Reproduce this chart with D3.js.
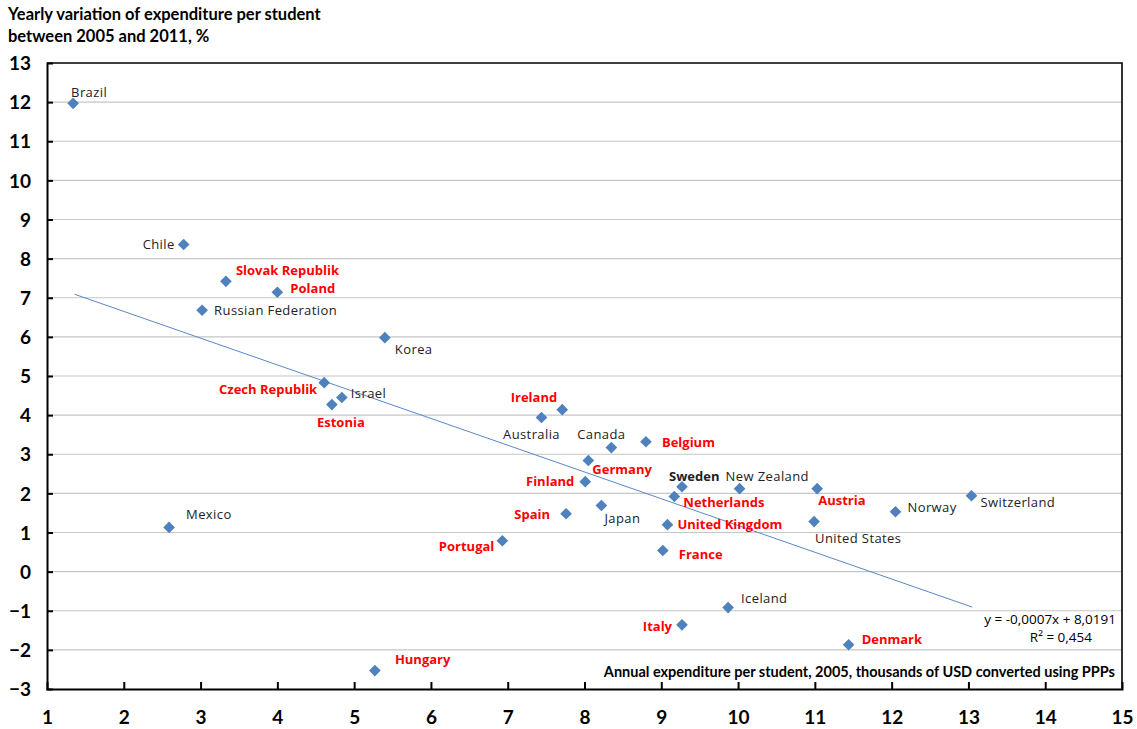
<!DOCTYPE html>
<html><head><meta charset="utf-8">
<script src="https://cdn.jsdelivr.net/npm/d3@7"></script>
<style>body{margin:0;background:#fff}svg{display:block}</style>
</head><body>
<script>
// ---- data ----
const countries = ["Brazil","Chile","Slovak Republik","Poland","Russian Federation","Korea","Czech Republik","Israel","Estonia","Mexico","Ireland","Australia","Canada","Belgium","Germany","Finland","Sweden","New Zealand","Netherlands","Austria","Norway","Switzerland","Spain","Japan","United Kingdom","United States","Portugal","France","Iceland","Italy","Denmark","Hungary"];
const expenditure2005 = [1.34,2.78,3.33,4.00,3.02,5.40,4.61,4.84,4.71,2.59,7.71,7.44,8.35,8.80,8.05,8.01,9.27,10.02,9.17,11.03,12.05,13.04,7.76,8.22,9.08,10.99,6.93,9.02,9.87,9.27,11.44,5.27];
const yearlyVariation = [11.97,8.36,7.42,7.14,6.68,5.98,4.83,4.45,4.27,1.13,4.14,3.94,3.17,3.32,2.84,2.30,2.17,2.12,1.92,2.12,1.53,1.94,1.48,1.69,1.20,1.28,0.79,0.54,-0.92,-1.36,-1.87,-2.53];
const highlighted = ["Slovak Republik","Poland","Czech Republik","Estonia","Ireland","Belgium","Germany","Finland","Netherlands","Austria","Spain","United Kingdom","Portugal","France","Italy","Denmark","Hungary"];
const xTicks = [1,2,3,4,5,6,7,8,9,10,11,12,13,14,15];
const yTicks = [13,12,11,10,9,8,7,6,5,4,3,2,1,0,-1,-2,-3];
const trendStartEnd = [1.36, 13.05];
const trendSlope = -0.684, trendIntercept = 8.0191;
const equationText = ["y = -0,0007x + 8,0191", "R² = 0,454"];
const titleLines = ["Yearly variation of expenditure per student", "between 2005 and 2011, %"];
const xTitle = "Annual expenditure per student, 2005, thousands of USD converted using PPPs";

// ---- label layout (dx, dy, anchor) ----
const labelLayout = {
 "Brazil":[-2,-11,"start"],"Chile":[-9,0,"end"],"Slovak Republik":[10,-11,"start"],"Poland":[13,-4,"start"],
 "Russian Federation":[12,0,"start"],"Korea":[10,12,"start"],"Czech Republik":[-7,7,"end"],"Israel":[9,-4,"start"],
 "Estonia":[9,18,"middle"],"Mexico":[17,-13,"start"],"Ireland":[-5,-12,"end"],"Australia":[-10,17,"middle"],
 "Canada":[-10,-13,"middle"],"Belgium":[16,1,"start"],"Germany":[4,9,"start"],"Finland":[-11,0,"end"],
 "Sweden":[-13,-10,"start"],"New Zealand":[-14,-12,"start"],"Netherlands":[9,6,"start"],"Austria":[1,12,"start"],
 "Norway":[12,-4,"start"],"Switzerland":[9,7,"start"],"Spain":[-16,1,"end"],"Japan":[3,13,"start"],
 "United Kingdom":[10,0,"start"],"United States":[1,17,"start"],"Portugal":[-8,6,"end"],"France":[16,4,"start"],
 "Iceland":[13,-9,"start"],"Italy":[-10,2,"end"],"Denmark":[13,-5,"start"],"Hungary":[20,-11,"start"]
};

const W = 1137, H = 729;
const svg = d3.select("body").append("svg").attr("width", W).attr("height", H);
const x = d3.scaleLinear().domain([1,15]).range([47,1122]);
const y = d3.scaleLinear().domain([-3,13]).range([689,63]);

// gridlines
svg.append("g").selectAll("line").data(yTicks.filter(v=>v>-3 && v<13)).join("line")
 .attr("x1", x(1)).attr("x2", x(15)).attr("y1", d=>y(d)).attr("y2", d=>y(d))
 .attr("stroke", "#c6c6c6").attr("stroke-width", 1.2);

// border top/right
svg.append("path").attr("d", `M${x(1)},${y(13)}H${x(15)}V${y(-3)}`).attr("fill","none").attr("stroke","#000").attr("stroke-width",1.6);

// axes
const yAxis = d3.axisLeft(y).tickValues(yTicks).tickSize(-6).tickPadding(16).tickFormat(d3.format("d"));
const gy = svg.append("g").attr("transform", `translate(${x(1)},0)`).call(yAxis);
const xAxis = d3.axisBottom(x).tickValues(xTicks).tickSize(-7).tickPadding(22).tickFormat(d3.format("d"));
const gx = svg.append("g").attr("transform", `translate(0,${y(-3)})`).call(xAxis);
[gx, gy].forEach(g => {
  g.select(".domain").attr("stroke","#000").attr("stroke-width",2);
  g.selectAll(".tick line").attr("stroke","#000").attr("stroke-width",2);
  g.selectAll(".tick text").attr("fill","#000").style("font-family","Lato, 'Open Sans', sans-serif").style("font-weight","bold").style("font-size","19px");
});
gy.selectAll(".tick text").attr("dy","0.35em");
gy.selectAll(".tick").filter(d=>d===13 || d===-3).select("line").remove();
gx.selectAll(".tick").filter(d=>d===1 || d===15).select("line").remove();

// trend line
svg.append("line")
 .attr("x1", x(trendStartEnd[0])).attr("y1", y(trendIntercept + trendSlope*trendStartEnd[0]))
 .attr("x2", x(trendStartEnd[1])).attr("y2", y(trendIntercept + trendSlope*trendStartEnd[1]))
 .attr("stroke","#5a87c5").attr("stroke-width",1);

// points
const pts = countries.map((c,i)=>({name:c, x:expenditure2005[i], y:yearlyVariation[i]}));
svg.append("g").selectAll("path").data(pts).join("path")
 .attr("d", d3.symbol().type(d3.symbolSquare).size(68))
 .attr("transform", d=>`translate(${x(d.x)},${y(d.y)}) rotate(45)`)
 .attr("fill","#4f81bd");

// labels
const isBold = d => highlighted.includes(d.name) || d.name==="Sweden";
svg.append("g").selectAll("text").data(pts).join("text")
 .attr("x", d=>x(d.x)+labelLayout[d.name][0])
 .attr("y", d=>y(d.y)+labelLayout[d.name][1])
 .attr("dy","0.35em")
 .attr("text-anchor", d=>labelLayout[d.name][2])
 .style("font-family","'Open Sans', sans-serif")
 .style("font-size","13px")
 .style("letter-spacing", d=> isBold(d) ? "0px" : "0.4px")
 .style("font-weight", d=> isBold(d) ? "bold" : "normal")
 .attr("fill", d=> highlighted.includes(d.name) ? "#ff0000" : "#222")
 .text(d=>d.name);

// title
svg.append("g").selectAll("text").data(titleLines).join("text")
 .attr("x", 8).attr("y",(d,i)=>20+i*22)
 .style("font-family","Lato, sans-serif").style("font-weight","bold").style("font-size","16.5px")
 .attr("fill","#000").text(d=>d);

// x axis title
svg.append("text").attr("x",1115).attr("y",677).attr("text-anchor","end")
 .style("font-family","Lato, sans-serif").style("font-weight","bold").style("font-size","14.5px")
 .attr("fill","#000").text(xTitle);

// equation
svg.append("text").attr("x",1116).attr("y",624).attr("text-anchor","end")
 .style("font-family","'Open Sans', sans-serif").style("font-size","13.5px").attr("fill","#000").text(equationText[0]);
svg.append("text").attr("x",1092).attr("y",642).attr("text-anchor","end")
 .style("font-family","'Open Sans', sans-serif").style("font-size","13.5px").attr("fill","#000").text(equationText[1]);
</script>
</body></html>
